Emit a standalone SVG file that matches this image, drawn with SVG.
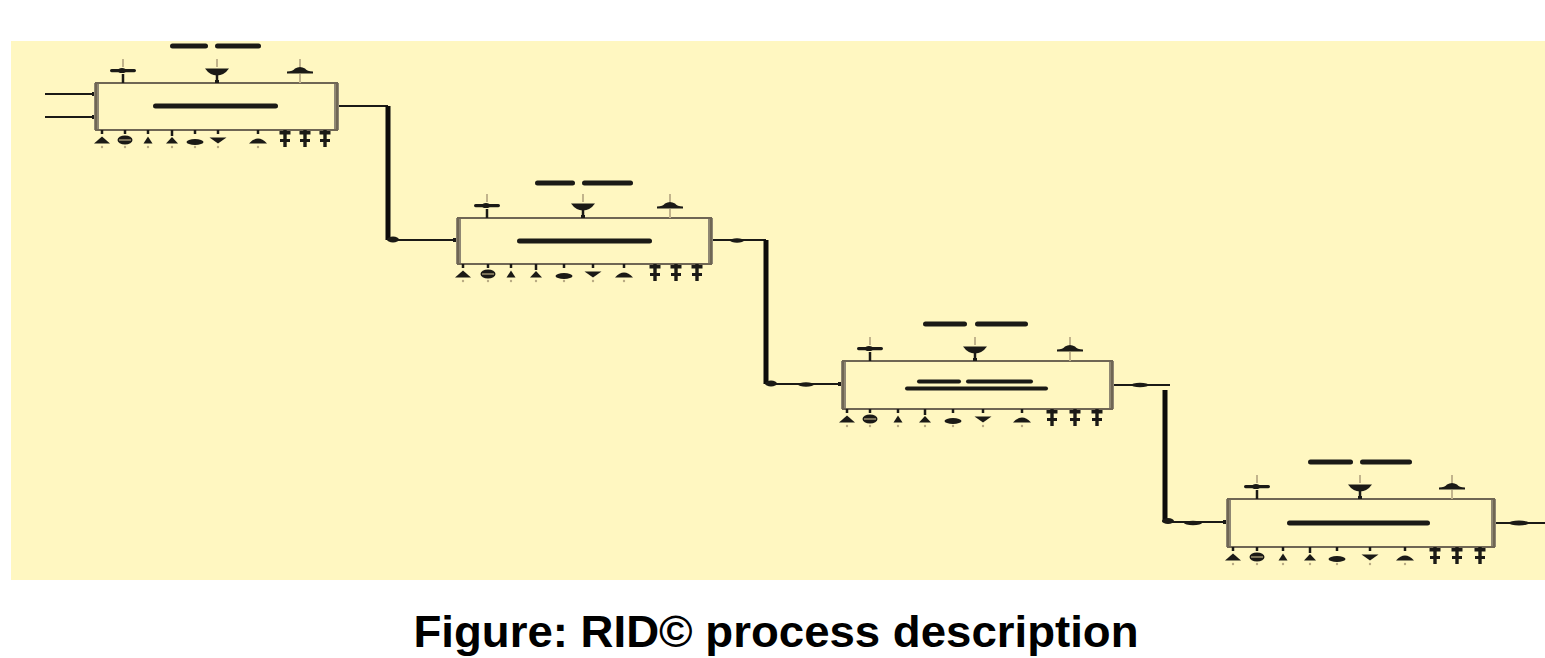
<svg xmlns="http://www.w3.org/2000/svg" xmlns:xlink="http://www.w3.org/1999/xlink" width="1545" height="658" viewBox="0 0 1545 658">
  <style>
    .panel { fill: #FFF7C1; }
    .frame { fill: none; stroke: #6f6654; stroke-width: 2; }
    .side { fill: #8f8773; }
    .ink { fill: #1b1a16; }
    .faint { fill: #b9ab84; }
    .wire { fill: none; stroke: #1b1a16; stroke-width: 2; }
    .trunk { fill: none; stroke: #0d0c0a; stroke-width: 5; }
    .tick { stroke: #1b1a16; stroke-width: 2.5; }
    .tickfaint { stroke: #c2b48c; stroke-width: 2; }
    .caption { font-family: "Liberation Sans", Arial, sans-serif; font-weight: bold; font-size: 45px; fill: #000; }
  </style>
  <defs>
    <!-- port markers above a box; origin at the port on the top edge -->
    <g id="topA">
      <line class="tickfaint" x1="0" y1="-24" x2="0" y2="-16"/>
      <line class="tick" x1="0" y1="-9" x2="0" y2="0"/>
      <rect class="ink" x="-13" y="-14" width="26" height="3.2" rx="1.6"/>
      <ellipse class="ink" cx="-1" cy="-12.5" rx="4" ry="2.6"/>
    </g>
    <g id="topB">
      <line class="tickfaint" x1="0" y1="-24" x2="0" y2="-16"/>
      <line class="tick" x1="0" y1="-8" x2="0" y2="0"/>
      <rect class="ink" x="-2" y="-3" width="4" height="3"/>
      <path class="ink" d="M-12,-14.5 H12 Q7,-7.5 0,-7.5 Q-7,-7.5 -12,-14.5 Z"/>
    </g>
    <g id="topC">
      <line class="tickfaint" x1="0" y1="-24" x2="0" y2="-16"/>
      <line class="tickfaint" x1="0" y1="-9" x2="0" y2="0"/>
      <path class="ink" d="M-13,-11.5 Q-7,-11.5 -5,-14.5 Q0,-17.5 5,-14.5 Q7,-11.5 13,-11.5 L13,-9.5 H-13 Z"/>
    </g>
    <!-- port markers below a box; origin at the port on the bottom edge -->
    <g id="b1">
      <line class="tick" x1="0" y1="0" x2="0" y2="4"/>
      <path class="ink" d="M-8,13.5 L0,6.5 L8,13.5 Z"/>
      <circle class="faint" cx="0" cy="17" r="1.2"/>
    </g>
    <g id="b2">
      <line class="tick" x1="0" y1="0" x2="0" y2="4"/>
      <ellipse class="ink" cx="0" cy="10" rx="7.5" ry="4.5"/>
      <rect class="faint" x="-6" y="9.4" width="12" height="1.2"/>
      <circle class="faint" cx="0" cy="17" r="1.2"/>
    </g>
    <g id="b3">
      <line class="tick" x1="0" y1="0" x2="0" y2="4"/>
      <path class="ink" d="M-4.5,13.5 L0,6.5 L4.5,13.5 Z"/>
      <circle class="faint" cx="0" cy="17" r="1.2"/>
    </g>
    <g id="b4">
      <line class="tick" x1="0" y1="0" x2="0" y2="6"/>
      <path class="ink" d="M-6,13.5 L0,7 L6,13.5 Z"/>
      <circle class="faint" cx="0" cy="17" r="1.2"/>
    </g>
    <g id="b5">
      <line class="tick" x1="0" y1="0" x2="0" y2="4"/>
      <ellipse class="ink" cx="0" cy="12" rx="8.5" ry="3"/>
      <circle class="faint" cx="0" cy="17" r="1.2"/>
    </g>
    <g id="b6">
      <line class="tick" x1="0" y1="0" x2="0" y2="4"/>
      <path class="ink" d="M-8.5,7.5 H8.5 L0,13.5 Z"/>
      <circle class="faint" cx="0" cy="17" r="1.2"/>
    </g>
    <g id="b7">
      <line class="tick" x1="0" y1="0" x2="0" y2="4"/>
      <path class="ink" d="M-9,13.5 Q0,3.5 9,13.5 Z"/>
      <circle class="faint" cx="0" cy="17" r="1.2"/>
    </g>
    <g id="b8">
      <rect class="ink" x="-1.7" y="0" width="3.4" height="17"/>
      <rect class="ink" x="-5.5" y="1" width="11" height="3.5"/>
      <rect class="ink" x="-5" y="9" width="10" height="3"/>
    </g>
  </defs>

  <!-- sheet -->
  <rect class="panel" x="11" y="41" width="1534" height="539"/>

  <!-- flow lines between the stages -->
  <g id="connectors">
    <path class="wire" d="M45,94 H95"/>
    <path class="wire" d="M45,117 H95"/>
    <rect class="ink" x="92" y="92" width="4" height="4"/>
    <rect class="ink" x="92" y="115" width="4" height="4"/>

    <path class="wire" d="M338,106 H388"/>
    <path class="trunk" d="M388,106 V240"/>
    <path class="wire" d="M388,240 H457"/>
    <ellipse class="ink" cx="393" cy="239.5" rx="6" ry="3"/>
    <rect class="ink" x="453" y="238" width="4" height="4"/>

    <path class="wire" d="M712,240 H766"/>
    <ellipse class="ink" cx="737" cy="240.5" rx="7" ry="2.2"/>
    <path class="trunk" d="M766,240 V384"/>
    <path class="wire" d="M766,384 H842"/>
    <ellipse class="ink" cx="771" cy="383.5" rx="6" ry="3"/>
    <ellipse class="ink" cx="806" cy="384.5" rx="8" ry="2.2"/>
    <rect class="ink" x="838" y="382" width="4" height="4"/>

    <path class="wire" d="M1113,385 H1170"/>
    <ellipse class="ink" cx="1140" cy="385" rx="9" ry="2.2"/>
    <path class="trunk" d="M1165,390 V522"/>
    <path class="wire" d="M1165,522 H1227"/>
    <ellipse class="ink" cx="1168" cy="521" rx="6" ry="3"/>
    <ellipse class="ink" cx="1193" cy="523" rx="9" ry="2.2"/>
    <rect class="ink" x="1223" y="520" width="4" height="4"/>

    <path class="wire" d="M1495,523 H1545"/>
    <ellipse class="ink" cx="1519" cy="523" rx="10" ry="2.4"/>
  </g>

  <!-- stage 1 -->
  <g id="stage1">
    <rect class="side" x="94" y="83" width="5" height="47"/>
    <rect class="side" x="334" y="83" width="5" height="47"/>
    <rect class="frame" x="96" y="83" width="241" height="47"/>
    <rect class="ink" x="170" y="43.5" width="38" height="5" rx="2.5"/>
    <rect class="ink" x="215" y="43.5" width="46" height="5" rx="2.5"/>
    <rect class="ink" x="153" y="103.5" width="125" height="5" rx="2.5"/>
    <use href="#topA" x="123" y="83"/>
    <use href="#topB" x="217" y="83"/>
    <use href="#topC" x="300" y="83"/>
    <use href="#b1" x="102" y="130"/>
    <use href="#b2" x="125" y="130"/>
    <use href="#b3" x="148" y="130"/>
    <use href="#b4" x="172" y="130"/>
    <use href="#b5" x="195" y="130"/>
    <use href="#b6" x="218" y="130"/>
    <use href="#b7" x="258" y="130"/>
    <use href="#b8" x="285" y="130"/>
    <use href="#b8" x="305" y="130"/>
    <use href="#b8" x="325" y="130"/>
  </g>

  <!-- stage 2 -->
  <g id="stage2">
    <rect class="side" x="456" y="218" width="5" height="46"/>
    <rect class="side" x="708" y="218" width="5" height="46"/>
    <rect class="frame" x="458" y="218" width="253" height="46"/>
    <rect class="ink" x="535" y="180.5" width="40" height="5" rx="2.5"/>
    <rect class="ink" x="582" y="180.5" width="51" height="5" rx="2.5"/>
    <rect class="ink" x="517" y="238.5" width="135" height="5" rx="2.5"/>
    <use href="#topA" x="487" y="218"/>
    <use href="#topB" x="583" y="218"/>
    <use href="#topC" x="670" y="218"/>
    <use href="#b1" x="463" y="264"/>
    <use href="#b2" x="488" y="264"/>
    <use href="#b3" x="511" y="264"/>
    <use href="#b4" x="536" y="264"/>
    <use href="#b5" x="564" y="264"/>
    <use href="#b6" x="593" y="264"/>
    <use href="#b7" x="624" y="264"/>
    <use href="#b8" x="655" y="264"/>
    <use href="#b8" x="676" y="264"/>
    <use href="#b8" x="697" y="264"/>
  </g>

  <!-- stage 3 -->
  <g id="stage3">
    <rect class="side" x="841" y="361" width="5" height="48"/>
    <rect class="side" x="1109" y="361" width="5" height="48"/>
    <rect class="frame" x="843" y="361" width="269" height="48"/>
    <rect class="ink" x="923" y="321.5" width="44" height="5" rx="2.5"/>
    <rect class="ink" x="975" y="321.5" width="53" height="5" rx="2.5"/>
    <rect class="ink" x="917" y="379.5" width="44" height="4" rx="2"/>
    <rect class="ink" x="966" y="379.5" width="67" height="4" rx="2"/>
    <rect class="ink" x="905" y="386.5" width="143" height="4" rx="2"/>
    <use href="#topA" x="870" y="361"/>
    <use href="#topB" x="975" y="361"/>
    <use href="#topC" x="1070" y="361"/>
    <use href="#b1" x="847" y="409"/>
    <use href="#b2" x="870" y="409"/>
    <use href="#b3" x="898" y="409"/>
    <use href="#b4" x="925" y="409"/>
    <use href="#b5" x="953" y="409"/>
    <use href="#b6" x="983" y="409"/>
    <use href="#b7" x="1022" y="409"/>
    <use href="#b8" x="1052" y="409"/>
    <use href="#b8" x="1075" y="409"/>
    <use href="#b8" x="1097" y="409"/>
  </g>

  <!-- stage 4 -->
  <g id="stage4">
    <rect class="side" x="1226" y="499" width="5" height="48"/>
    <rect class="side" x="1491" y="499" width="5" height="48"/>
    <rect class="frame" x="1228" y="499" width="266" height="48"/>
    <rect class="ink" x="1308" y="459.5" width="45" height="5" rx="2.5"/>
    <rect class="ink" x="1360" y="459.5" width="52" height="5" rx="2.5"/>
    <rect class="ink" x="1287" y="520.5" width="143" height="5" rx="2.5"/>
    <use href="#topA" x="1257" y="499"/>
    <use href="#topB" x="1360" y="499"/>
    <use href="#topC" x="1452" y="499"/>
    <use href="#b1" x="1233" y="547"/>
    <use href="#b2" x="1257" y="547"/>
    <use href="#b3" x="1283" y="547"/>
    <use href="#b4" x="1310" y="547"/>
    <use href="#b5" x="1337" y="547"/>
    <use href="#b6" x="1370" y="547"/>
    <use href="#b7" x="1405" y="547"/>
    <use href="#b8" x="1435" y="547"/>
    <use href="#b8" x="1457" y="547"/>
    <use href="#b8" x="1480" y="547"/>
  </g>

  <text class="caption" x="776" y="647" text-anchor="middle" textLength="725" lengthAdjust="spacingAndGlyphs">Figure: RID© process description</text>
</svg>
